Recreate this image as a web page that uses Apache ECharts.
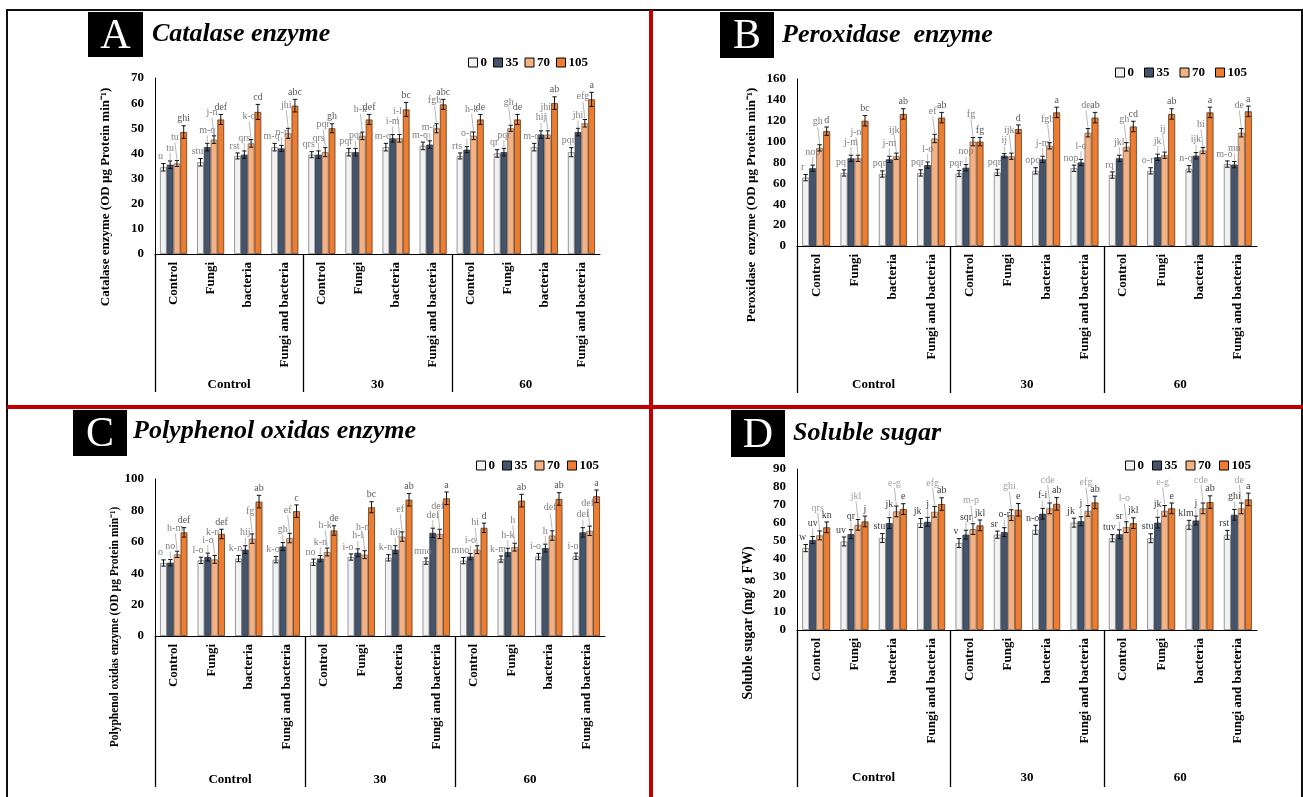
<!DOCTYPE html>
<html><head><meta charset="utf-8">
<script src="https://cdn.jsdelivr.net/npm/echarts@6/dist/echarts.min.js"></script>
<style>html,body{margin:0;padding:0;background:#fff}#c{width:1303px;height:797px}</style>
</head><body><div id="c"></div>
<script>
// ---------- DATA ----------
const categories = ['Control','Fungi','bacteria','Fungi and bacteria','Control','Fungi','bacteria','Fungi and bacteria','Control','Fungi','bacteria','Fungi and bacteria'];
const groups = ['Control','30','60'];
const seriesNames = ['0','35','70','105'];

// A – Catalase
const catalase0   = [34.5, 36.5, 39.0, 42.5, 39.5, 40.5, 42.5, 43.0, 39.0, 40.0, 42.5, 40.5];
const catalase35  = [35.5, 42.5, 39.5, 42.0, 39.5, 40.5, 46.0, 43.5, 41.5, 40.5, 47.5, 48.5];
const catalase70  = [36.0, 45.5, 44.0, 48.0, 40.5, 47.0, 46.0, 50.0, 47.0, 50.0, 47.5, 52.0];
const catalase105 = [48.5, 53.5, 56.5, 59.0, 50.0, 53.5, 57.5, 59.5, 53.5, 53.5, 60.0, 61.5];
const catalaseErr0   = [1.5, 1.5, 1.2, 1.5, 1.2, 1.5, 1.5, 1.5, 1.2, 1.5, 1.5, 1.8];
const catalaseErr35  = [1.5, 1.5, 1.5, 1.2, 1.5, 1.5, 1.5, 1.5, 1.2, 1.5, 1.5, 1.5];
const catalaseErr70  = [1.2, 1.5, 1.5, 2.0, 1.8, 1.5, 1.5, 1.8, 1.5, 1.2, 1.5, 1.5];
const catalaseErr105 = [2.5, 2.0, 3.0, 2.5, 1.8, 2.0, 2.8, 2.0, 2.0, 2.0, 2.5, 2.8];
const catalaseLab0   = ['u','stu','rst','m-q','qrs','pqr','m-q','m-q','rts','qr','m-q','pqr'];
const catalaseLab35  = ['tu','m-q','qrs','n-r','qrs','pqr','i-m','m-p','o-r','pqr','hij','jhi'];
const catalaseLab70  = ['tu','j-n','k-o','jhi','pqr','h-k','i-l','fgh','h-k','gh','jhi','efg'];
const catalaseLab105 = ['ghi','def','cd','abc','gh','def','bc','abc','de','de','ab','a'];

// B – Peroxidase
const perox0   = [65.5, 70.0, 69.0, 70.0, 69.5, 70.5, 72.0, 74.5, 68.0, 72.0, 74.0, 78.5];
const perox35  = [74.5, 84.0, 83.0, 77.5, 75.0, 86.5, 83.0, 80.0, 84.0, 85.0, 86.5, 78.0];
const perox70  = [94.0, 84.0, 86.0, 103.0, 100.0, 86.0, 96.0, 108.5, 95.0, 87.0, 91.5, 108.5];
const perox105 = [110.0, 120.0, 126.5, 123.0, 100.0, 112.0, 128.0, 123.0, 114.5, 126.5, 128.0, 129.0];
const peroxErr0   = [3, 3, 3, 3, 3, 3, 3, 3, 3, 3, 3, 3];
const peroxErr35  = [3, 3, 3, 3, 3, 2, 3, 3, 3, 3, 3, 3];
const peroxErr70  = [3, 3, 3, 4, 4, 3, 3, 4, 4, 3, 3, 4];
const peroxErr105 = [4, 5, 5, 5, 4, 4, 5, 5, 5, 5, 5, 5];
const peroxLab0   = ['r','pq','pqr','pqr','pqr','pqr','opq','nop','rq','o-r','n-q','m-o'];
const peroxLab35  = ['nop','j-m','j-m','l-o','nop','ij','j-m','l-o','jkl','jk','ijk','mn'];
const peroxLab70  = ['gh','j-n','ijk','ef','fg','ijk','fgh','de','gh','ij','hi','de'];
const peroxLab105 = ['d','bc','ab','ab','fg','d','a','ab','cd','ab','a','a'];

// C – Polyphenol oxidase
const ppo0   = [46.5, 48.2, 49.3, 48.6, 47.0, 50.3, 49.8, 47.7, 48.0, 49.0, 50.6, 50.8];
const ppo35  = [46.7, 50.3, 55.0, 57.0, 49.3, 53.0, 55.0, 65.7, 50.6, 53.4, 56.0, 66.0];
const ppo70  = [52.0, 48.8, 62.0, 62.4, 53.5, 51.8, 63.3, 65.0, 55.0, 56.6, 64.0, 67.0];
const ppo105 = [66.0, 65.0, 85.6, 79.5, 67.2, 82.0, 86.8, 87.7, 68.9, 86.2, 87.3, 89.0];
const ppoErr0   = [2.0, 2.0, 2.0, 2.0, 2.0, 2.0, 2.0, 2.0, 2.0, 2.0, 2.0, 2.0];
const ppoErr35  = [2.0, 2.5, 2.5, 2.5, 2.0, 2.5, 2.5, 3.0, 2.0, 2.5, 2.5, 3.0];
const ppoErr70  = [2.0, 2.5, 3.0, 3.0, 2.5, 2.5, 3.0, 3.0, 2.5, 2.5, 3.0, 3.0];
const ppoErr105 = [3.0, 3.0, 4.0, 4.0, 3.0, 3.5, 4.0, 4.0, 3.0, 4.0, 4.0, 4.0];
const ppoLab0   = ['o','l-o','k-n','k-o','no','i-o','k-n','mno','mno','k-m','i-o','i-o'];
const ppoLab35  = ['no','i-o','hij','gh','k-n','h-l','hij','def','i-o','h-k','h','def'];
const ppoLab70  = ['h-m','k-n','fg','ef','h-k','h-n','ef','def','hi','h','def','def'];
const ppoLab105 = ['def','def','ab','c','de','bc','ab','a','d','ab','ab','a'];

// D – Soluble sugar
const sugar0   = [45.8, 49.5, 51.4, 59.8, 48.6, 53.3, 56.0, 60.0, 51.3, 51.3, 58.8, 53.2];
const sugar35  = [50.3, 53.6, 59.8, 60.5, 53.3, 54.7, 65.0, 60.8, 53.5, 60.0, 61.2, 64.4];
const sugar70  = [52.9, 58.8, 66.3, 66.1, 56.4, 64.2, 68.0, 66.6, 57.5, 66.6, 68.0, 68.0];
const sugar105 = [57.4, 60.7, 67.6, 70.4, 58.5, 67.2, 70.5, 71.3, 59.7, 68.0, 71.5, 73.0];
const sugarErr0   = [2.0, 2.5, 2.5, 2.5, 2.5, 2.0, 2.5, 2.5, 2.0, 2.5, 2.5, 2.5];
const sugarErr35  = [2.0, 2.5, 3.0, 2.5, 2.5, 2.5, 3.0, 2.5, 2.5, 3.0, 2.5, 3.0];
const sugarErr70  = [2.5, 3.0, 3.0, 3.0, 3.0, 3.0, 3.0, 3.0, 3.0, 3.0, 3.0, 3.0];
const sugarErr105 = [3.0, 3.0, 3.0, 3.5, 3.0, 3.5, 3.5, 3.5, 3.0, 3.0, 3.5, 3.5];
const sugarLab0   = ['w','uv','stu','jk','v','sr','n-o','jk','tuv','stu','klm','rst'];
const sugarLab35  = ['uv','qr','jk','j','sqr','o-r','f-i','j','sr','jk','j','ghi'];
const sugarLab70  = ['qrs','jkl','e-g','efg','m-p','ghi','cde','efg','l-o','e-g','cde','de'];
const sugarLab105 = ['kn','j','e','ab','jkl','e','ab','ab','jkl','e','ab','a'];

const yTicksA = [0, 70, 10];
const yTicksB = [0, 160, 20];
const yTicksC = [0, 100, 20];
const yTicksD = [0, 90, 10];

// ---------- PANELS ----------
const panels = [
  {letter:'A', title:'Catalase enzyme', yTitle:'Catalase enzyme (OD µg Protein min\u207B\u00B9)', ticks:yTicksA,
   vals:[catalase0,catalase35,catalase70,catalase105], errs:[catalaseErr0,catalaseErr35,catalaseErr70,catalaseErr105],
   labs:[catalaseLab0,catalaseLab35,catalaseLab70,catalaseLab105]},
  {letter:'B', title:'Peroxidase  enzyme', yTitle:'Peroxidase  enzyme (OD µg Protein min\u207B\u00B9)', ticks:yTicksB,
   vals:[perox0,perox35,perox70,perox105], errs:[peroxErr0,peroxErr35,peroxErr70,peroxErr105],
   labs:[peroxLab0,peroxLab35,peroxLab70,peroxLab105]},
  {letter:'C', title:'Polyphenol oxidas enzyme', yTitle:'Polyphenol oxidas enzyme (OD µg Protein min\u207B\u00B9)', ticks:yTicksC,
   vals:[ppo0,ppo35,ppo70,ppo105], errs:[ppoErr0,ppoErr35,ppoErr70,ppoErr105],
   labs:[ppoLab0,ppoLab35,ppoLab70,ppoLab105]},
  {letter:'D', title:'Soluble sugar', yTitle:'Soluble sugar (mg/ g FW)', ticks:yTicksD,
   vals:[sugar0,sugar35,sugar70,sugar105], errs:[sugarErr0,sugarErr35,sugarErr70,sugarErr105],
   labs:[sugarLab0,sugarLab35,sugarLab70,sugarLab105]}
];

// ---------- LAYOUT / STYLE ----------
const FONT = '"Liberation Serif","Times New Roman",serif';
const GAP = 0.27;
const layout = [
  {grid:{left:155, top:78, width:445, height:176}, groupOffset:116, sepLen:138, legend:{left:463, top:51, gap:6},
   box:{x:88,y:12,w:55,h:45}, titleX:152, titleY:34, yT:{x:106,y:197,size:13}, labCol:['#808080','#808080','#808080','#595959']},
  {grid:{left:797, top:79, width:460, height:167}, groupOffset:124, sepLen:147, legend:{left:1110, top:61, gap:10},
   box:{x:720,y:12,w:54,h:46}, titleX:782, titleY:35, yT:{x:752,y:205,size:13}, labCol:['#808080','#808080','#808080','#595959']},
  {grid:{left:155, top:479, width:450, height:157}, groupOffset:129, sepLen:151, legend:{left:471, top:454, gap:7},
   box:{x:73,y:410,w:54,h:46}, titleX:133, titleY:431, yT:{x:115,y:627,size:11.5}, labCol:['#808080','#808080','#808080','#595959']},
  {grid:{left:797, top:469, width:460, height:161}, groupOffset:133, sepLen:157, legend:{left:1120, top:454, gap:8},
   box:{x:731,y:410,w:54,h:47}, titleX:793, titleY:433, yT:{x:748,y:623,size:14}, labCol:['#404040','#404040','#a0a0a0','#404040']}
];
const barColors = ['#f2f2f2','#44546a','#f4b183','#ed7d31'];
const barBorders = ['#7f7f7f','#2a3342','#8a6a55','#5a3a20'];
const labDx = [-3, 0, -2, 0];
const labLift = [0, 6, 16, 0];

const chart = echarts.init(document.getElementById('c'), null, {renderer:'canvas'});

const grids=[], xAxes=[], yAxes=[], series=[], legends=[];
const graphics = [
  {type:'rect', shape:{x:7,y:10,width:1295,height:788}, style:{fill:'none', stroke:'#111', lineWidth:2}, z:0},
  {type:'line', shape:{x1:651,y1:10,x2:651,y2:797}, style:{stroke:'#c00000', lineWidth:4}, z:1},
  {type:'line', shape:{x1:7,y1:407,x2:1303,y2:407}, style:{stroke:'#c00000', lineWidth:4}, z:1}
];

panels.forEach((p, pi) => {
  const L = layout[pi];
  grids.push(Object.assign({containLabel:false}, L.grid));
  xAxes.push({
    type:'category', gridIndex:pi, data:categories, boundaryGap:true,
    axisLine:{show:true, lineStyle:{color:'#000', width:1}}, axisTick:{show:false},
    axisLabel:{interval:0, rotate:90, margin:8, fontFamily:FONT, fontWeight:'bold', fontSize:13, color:'#000'},
    splitLine:{show:false}
  });
  xAxes.push({
    type:'category', gridIndex:pi, data:groups, position:'bottom', offset:L.groupOffset,
    axisLine:{show:false}, axisTick:{show:false},
    axisLabel:{interval:0, margin:8, fontFamily:FONT, fontWeight:'bold', fontSize:13, color:'#000'},
    splitLine:{show:false}
  });
  yAxes.push({
    type:'value', gridIndex:pi, min:p.ticks[0], max:p.ticks[1], interval:p.ticks[2],
    axisLine:{show:true, lineStyle:{color:'#000', width:1}}, axisTick:{show:false}, splitLine:{show:false},
    axisLabel:{margin:11, fontFamily:FONT, fontWeight:'bold', fontSize:13, color:'#000'}
  });
  legends.push({
    left:L.legend.left, top:L.legend.top, orient:'horizontal', itemWidth:9, itemHeight:9, itemGap:L.legend.gap,
    icon:'rect', data:seriesNames, selectedMode:false,
    itemStyle:{borderColor:'#000', borderWidth:1},
    textStyle:{fontFamily:FONT, fontWeight:'bold', fontSize:13, color:'#000', padding:[0,0,0,-2]}
  });
  p.vals.forEach((arr, s) => {
    series.push({
      type:'bar', name:seriesNames[s], xAxisIndex:2*pi, yAxisIndex:pi, data:arr,
      barGap:'0%', barCategoryGap:(GAP*100)+'%',
      itemStyle:{color:barColors[s], borderColor:barBorders[s], borderWidth:0.8},
      emphasis:{disabled:true}, animation:false
    });
  });
  // error bars + letter labels
  const pts = [];
  for (let s=0;s<4;s++) for (let c=0;c<12;c++) pts.push([c, p.vals[s][c], p.errs[s][c], s]);
  series.push({
    type:'custom', name:'err'+pi, xAxisIndex:2*pi, yAxisIndex:pi, data:pts, z:5, animation:false, silent:true,
    renderItem:(params, api) => {
      const c = api.value(0), v = api.value(1), e = api.value(2), s = api.value(3);
      const band = api.size([1,0])[0];
      const total = band*(1-GAP), bw = total/4;
      const x = api.coord([c, v])[0] - total/2 + bw*(s+0.5);
      const yHi = api.coord([c, v+e])[1], yLo = api.coord([c, v-e])[1];
      const cap = bw*0.32;
      const st = {stroke:'#111', lineWidth:1};
      const lab = p.labs[s][c];
      const lx = x + labDx[s], ly = yHi - 2 - labLift[s];
      const ch = [
        {type:'line', shape:{x1:x,y1:yHi,x2:x,y2:yLo}, style:st},
        {type:'line', shape:{x1:x-cap,y1:yHi,x2:x+cap,y2:yHi}, style:st},
        {type:'line', shape:{x1:x-cap,y1:yLo,x2:x+cap,y2:yLo}, style:st},
        {type:'text', x:lx, y:ly, style:{text:lab, fill:L.labCol[s], font:'10px '+FONT, align:'center', verticalAlign:'bottom'}}
      ];
      if (labLift[s] > 0) {
        ch.push({type:'line', shape:{x1:lx,y1:ly,x2:x,y2:yHi-1}, style:{stroke:'#9a9a9a', lineWidth:0.7}});
      }
      return {type:'group', children:ch};
    }
  });
  // group separators
  series.push({
    type:'custom', name:'sep'+pi, xAxisIndex:2*pi+1, yAxisIndex:pi, data:[[0,0],[1,0],[2,0]], z:4, animation:false, silent:true,
    renderItem:(params, api) => {
      const pt = api.coord([api.value(0), 0]);
      const band = api.size([1,0])[0];
      const x = Math.round(pt[0] - band/2) + 0.5;
      return {type:'line', shape:{x1:x, y1:pt[1], x2:x, y2:pt[1]+L.sepLen}, style:{stroke:'#000', lineWidth:1.3}};
    }
  });
  // title box and titles
  graphics.push({type:'rect', shape:{x:L.box.x, y:L.box.y, width:L.box.w, height:L.box.h}, style:{fill:'#000'}});
  graphics.push({type:'text', x:L.box.x + L.box.w/2, y:L.box.y + L.box.h/2 + 2,
    style:{text:p.letter, fill:'#fff', font:'42px '+FONT, align:'center', verticalAlign:'middle'}});
  graphics.push({type:'text', x:L.titleX, y:L.titleY,
    style:{text:p.title, fill:'#000', font:'italic bold 26px '+FONT, align:'left', verticalAlign:'middle'}});
  graphics.push({type:'text', x:L.yT.x, y:L.yT.y, rotation:Math.PI/2,
    style:{text:p.yTitle, fill:'#000', font:'bold '+L.yT.size+'px '+FONT, align:'center', verticalAlign:'middle'}});
});

chart.setOption({
  animation:false,
  backgroundColor:'#fff',
  grid:grids, xAxis:xAxes, yAxis:yAxes, legend:legends, series:series, graphic:graphics
});
</script>
</body></html>
